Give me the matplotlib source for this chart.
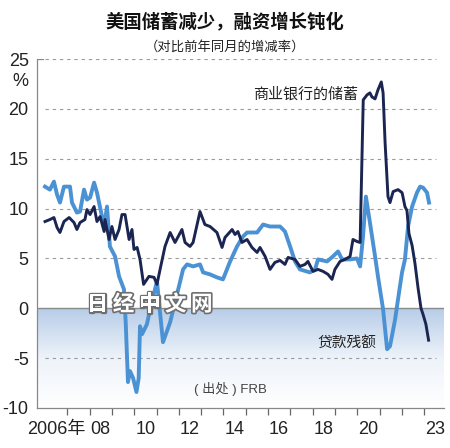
import matplotlib
matplotlib.use("Agg")
import matplotlib.pyplot as plt
import numpy as np
from matplotlib import font_manager
import matplotlib.patheffects as pe
from matplotlib.colors import LinearSegmentedColormap

# ---------------- data ----------------
loan_t = [2006.00, 2006.22, 2006.40, 2006.54, 2006.67, 2006.85, 2007.12, 2007.21, 2007.43, 2007.57,
          2007.75, 2007.88, 2008.02, 2008.20, 2008.33, 2008.65, 2008.78, 2008.91, 2009.14, 2009.32,
          2009.54, 2009.62, 2009.72, 2009.81, 2009.95, 2010.10, 2010.20, 2010.26, 2010.35, 2010.57,
          2010.71, 2011.02, 2011.29, 2011.61, 2012.05, 2012.19, 2012.37, 2012.64, 2012.95, 2013.09,
          2013.40, 2013.71, 2013.98, 2014.30, 2014.61, 2014.88, 2015.06, 2015.51, 2015.78, 2016.09,
          2016.54, 2016.76, 2016.99, 2017.21, 2017.43, 2017.88, 2018.11, 2018.24, 2018.65, 2018.91,
          2019.14, 2019.32, 2019.68, 2019.99, 2020.13, 2020.26, 2020.39, 2020.57, 2020.80, 2020.93,
          2021.16, 2021.34, 2021.47, 2021.70, 2021.83, 2022.01, 2022.14, 2022.28, 2022.46, 2022.68,
          2022.82, 2022.95, 2023.13, 2023.22]
loan_v = [12.2, 11.9, 12.7, 11.4, 10.6, 12.2, 12.2, 10.6, 9.6, 9.7,
          11.9, 10.9, 11.1, 12.6, 11.6, 8.2, 10.2, 6.2, 5.2, 3.2,
          1.9, -1.5, -7.4, -6.3, -7.0, -8.4, -7.0, -1.8, -2.6, -1.6,
          -0.1, 2.7, -3.4, -1.4, 2.6, 3.9, 4.4, 4.2, 4.4, 3.6,
          3.4, 3.1, 2.9, 4.7, 6.2, 7.2, 7.6, 7.6, 8.4, 8.2,
          8.2, 7.7, 6.2, 4.7, 3.9, 3.6, 3.9, 4.9, 4.7, 5.2,
          5.7, 4.9, 4.9, 5.0, 4.2, 7.2, 11.2, 8.6, 5.2, 3.2,
          -0.1, -4.1, -3.8, -1.1, 0.9, 3.6, 4.9, 8.2, 10.2, 11.6,
          12.2, 12.1, 11.6, 10.6]

dep_t = [2006.00, 2006.22, 2006.40, 2006.54, 2006.67, 2006.85, 2007.08, 2007.30, 2007.43, 2007.57,
         2007.79, 2007.88, 2008.02, 2008.20, 2008.33, 2008.47, 2008.65, 2008.69, 2008.87, 2009.00,
         2009.14, 2009.32, 2009.45, 2009.59, 2009.77, 2009.90, 2009.99, 2010.13, 2010.26, 2010.42,
         2010.66, 2010.89, 2011.02, 2011.16, 2011.38, 2011.61, 2011.83, 2012.14, 2012.28, 2012.50,
         2012.64, 2012.95, 2013.17, 2013.40, 2013.71, 2013.94, 2014.07, 2014.39, 2014.52, 2014.65,
         2014.83, 2015.06, 2015.28, 2015.51, 2015.64, 2015.87, 2016.09, 2016.31, 2016.54, 2016.76,
         2016.90, 2017.05, 2017.21, 2017.43, 2017.66, 2017.79, 2018.02, 2018.24, 2018.47, 2018.69,
         2018.87, 2019.00, 2019.23, 2019.45, 2019.68, 2019.81, 2019.99, 2020.13, 2020.27, 2020.44,
         2020.57, 2020.66, 2020.80, 2020.93, 2021.08, 2021.16, 2021.25, 2021.38, 2021.47, 2021.61,
         2021.83, 2022.01, 2022.05, 2022.14, 2022.23, 2022.32, 2022.46, 2022.59, 2022.73, 2022.86,
         2022.95, 2023.08, 2023.20]
dep_v = [8.7, 8.9, 9.1, 8.1, 7.6, 8.7, 9.1, 8.6, 7.9, 8.6,
         8.9, 9.9, 9.4, 10.2, 8.7, 9.2, 7.7, 8.9, 6.9, 8.2,
         6.9, 7.9, 9.4, 9.4, 6.9, 7.9, 5.9, 6.1, 4.9, 2.4,
         3.2, 3.1, 2.4, 3.9, 6.2, 7.6, 6.6, 7.9, 6.6, 6.2,
         6.6, 9.7, 8.4, 8.2, 7.6, 6.1, 7.1, 7.9, 7.4, 7.7,
         6.6, 6.9, 6.1, 5.6, 6.1, 5.2, 3.9, 4.6, 4.8, 4.4,
         5.1, 5.0, 4.9, 4.2, 4.4, 4.7, 3.7, 3.9, 3.7, 3.4,
         2.9, 3.9, 4.7, 4.9, 5.2, 6.9, 6.7, 6.6, 20.9, 21.4,
         21.6, 21.2, 21.0, 21.9, 22.7, 21.6, 16.6, 11.2, 10.6, 11.7,
         11.9, 11.6, 11.2, 10.2, 9.8, 7.5, 6.3, 4.5, 2.0, 0.0,
         -0.6, -1.6, -3.2]

yticks = [25, 20, 15, 10, 5, 0, -5, -10]
ytick_labels = ["25", "20", "15", "10", "5", "0", "-5", "-10"]
xlabel_pos = [2006.5, 2008.5, 2010.5, 2012.5, 2014.5, 2016.5, 2018.5, 2020.5, 2023.5]
xlabel_txt = ["2006年", "08", "10", "12", "14", "16", "18", "20", "23"]
xtick_years = list(range(2007, 2024))

# ---------------- fonts ----------------
names = {f.name for f in font_manager.fontManager.ttflist}
num_font = "Liberation Sans Narrow" if "Liberation Sans Narrow" in names else "Liberation Sans"
cjk = "Noto Sans CJK SC"
plt.rcParams["font.family"] = [num_font, cjk, "DejaVu Sans"]
NUM_SIZE = 14.5 if num_font.endswith("Narrow") else 13

NAVY = "#1b2552"
LBLUE = "#4b92d4"
GRID = "#9a9a9a"
AXC = "#888888"

fig = plt.figure(figsize=(4.5, 4.48), dpi=100)
ax = fig.add_axes([0.0822, 0.0893, 0.905, 0.779])
xmin = 2005.64
xmax = xmin + 0.905 * 450 / 22.3
ax.set_frame_on(False)

# gradient background below zero
cmap = LinearSegmentedColormap.from_list("g", ["#ffffff", "#eef3fa", "#b7cde8"])
grad = np.linspace(0, 1, 256).reshape(-1, 1)
ax.imshow(grad, extent=[xmin, 2023.85, -10, 0], origin="lower", aspect="auto",
          cmap=cmap, zorder=0)
ax.set_xlim(xmin, xmax)
ax.set_ylim(-10, 25)

# gridlines
for y in [25, 20, 15, 10, 5, -5]:
    ax.plot([xmin + 0.35, 2023.55], [y, y], color=GRID, lw=0.8, ls=(0, (3, 3.5)), zorder=1)
ax.plot([xmin, xmin + 0.25], [25, 25], color=AXC, lw=0.9, zorder=1)
ax.plot([xmin, 2023.85], [0, 0], color="#8a8a8a", lw=1.0, zorder=1)

# axis lines (left and bottom only)
ax.plot([0, 0], [0, 1], transform=ax.transAxes, color=AXC, lw=0.9, clip_on=False, zorder=2)
ax.plot([0, 1], [0, 0], transform=ax.transAxes, color=AXC, lw=0.9, clip_on=False, zorder=2)

# series
ax.plot(loan_t, loan_v, color=LBLUE, lw=2.8, solid_joinstyle="round", zorder=3)
ax.plot(dep_t, dep_v, color=NAVY, lw=2.1, solid_joinstyle="round", zorder=4)

ax.set_yticks(yticks)
ax.set_yticklabels(ytick_labels, fontsize=NUM_SIZE, color="#222222")
ax.tick_params(axis="y", length=0, pad=6)

ax.set_xticks(xtick_years)
ax.set_xticklabels([""] * len(xtick_years))
ax.tick_params(axis="x", direction="out", length=5, width=0.9, color="#666666")
for p, t in zip(xlabel_pos, xlabel_txt):
    ax.text(p, -11.3, t, ha="center", va="top", fontsize=NUM_SIZE, color="#222222",
            family=[num_font, cjk])

# percent sign
ax.text(-0.041, 0.935, "%", transform=ax.transAxes, ha="center", va="center",
        fontsize=NUM_SIZE, color="#222222")

# titles
fig.text(0.5, 0.951, "美国储蓄减少，融资增长钝化", ha="center", va="center",
         fontsize=13.2, fontweight="bold", family=[cjk], color="#111111")
fig.text(0.5, 0.895, "（对比前年同月的增减率）", ha="center", va="center",
         fontsize=9.6, family=[cjk], color="#222222")

# annotations
ax.text(2020.05, 21.4, "商业银行的储蓄", ha="right", va="center", fontsize=10.8,
        family=[cjk], color="#222222", zorder=5)
ax.text(2020.85, -3.6, "贷款残额", ha="right", va="center", fontsize=10.6,
        family=[cjk], color="#222222", zorder=5)
ax.text(2012.7, -8.1, "( 出处 ) FRB", ha="left", va="center", fontsize=9.5,
        family=[num_font, cjk], color="#444444", zorder=5)

# watermark
wm = "日经中文网"
for i, ch in enumerate(wm):
    ax.text(2008.35 + i * 1.17, 0.4, ch, ha="center", va="center", fontsize=15.5,
            fontweight="bold", family=[cjk], color="white", zorder=6,
            path_effects=[pe.withStroke(linewidth=2.4, foreground="#6e6e6e")])

fig.savefig("out.png", dpi=100)
